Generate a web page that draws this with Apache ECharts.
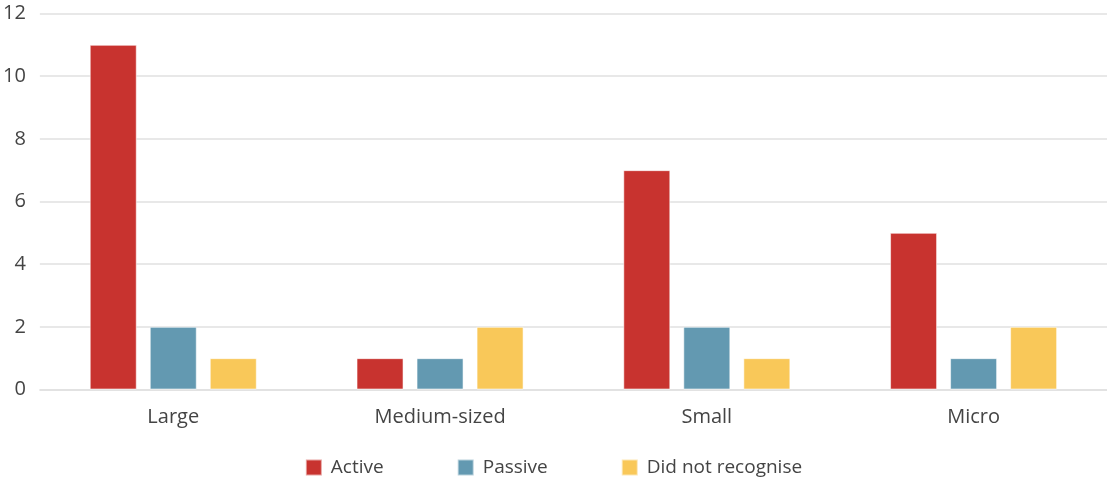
<!DOCTYPE html>
<html>
<head>
<meta charset="utf-8">
<script src="https://cdn.jsdelivr.net/npm/echarts@6/dist/echarts.min.js"></script>
<style>html,body{margin:0;padding:0;background:#fff;}#c{width:1107px;height:478px;}</style>
</head>
<body>
<div id="c"></div>
<script>
const categories = ['Large', 'Medium-sized', 'Small', 'Micro'];
const seriesNames = ['Active', 'Passive', 'Did not recognise'];
const active = [11, 1, 7, 5];
const passive = [2, 1, 2, 1];
const didNotRecognise = [1, 2, 1, 2];
const colors = ['#C8332F', '#6399B1', '#F9C859'];

const chart = echarts.init(document.getElementById('c'));
const font = '"Open Sans", "Noto Sans", sans-serif';
const mk = (name, data, color) => ({
  name, type: 'bar', data, barWidth: 47, barGap: '27.7%',
  itemStyle: { color, borderColor: 'rgba(255,255,255,0.55)', borderWidth: 1 }
});
chart.setOption({
  animation: false,
  textStyle: { fontFamily: font },
  grid: { left: 39, right: 0, top: 13.5, bottom: 88.5 },
  legend: {
    top: 453, left: 'center', itemWidth: 16, itemHeight: 16, itemGap: 73,
    icon: 'rect',
    textStyle: { fontSize: 19, color: '#444', fontFamily: font, padding: [0, 0, 0, 4] },
    data: seriesNames
  },
  xAxis: {
    type: 'category', data: categories,
    axisLine: { show: true, lineStyle: { color: '#e0e0e0', width: 1.5 } },
    axisTick: { show: false },
    axisLabel: { fontSize: 20, color: '#444', margin: 18, fontFamily: font }
  },
  yAxis: {
    type: 'value', min: 0, max: 12, interval: 2,
    axisLine: { show: false }, axisTick: { show: false },
    splitLine: { lineStyle: { color: '#e0e0e0', width: 1.5 } },
    axisLabel: { fontSize: 20, color: '#444', margin: 14, fontFamily: font }
  },
  series: [
    mk(seriesNames[0], active, colors[0]),
    mk(seriesNames[1], passive, colors[1]),
    mk(seriesNames[2], didNotRecognise, colors[2])
  ]
});
</script>
</body>
</html>
